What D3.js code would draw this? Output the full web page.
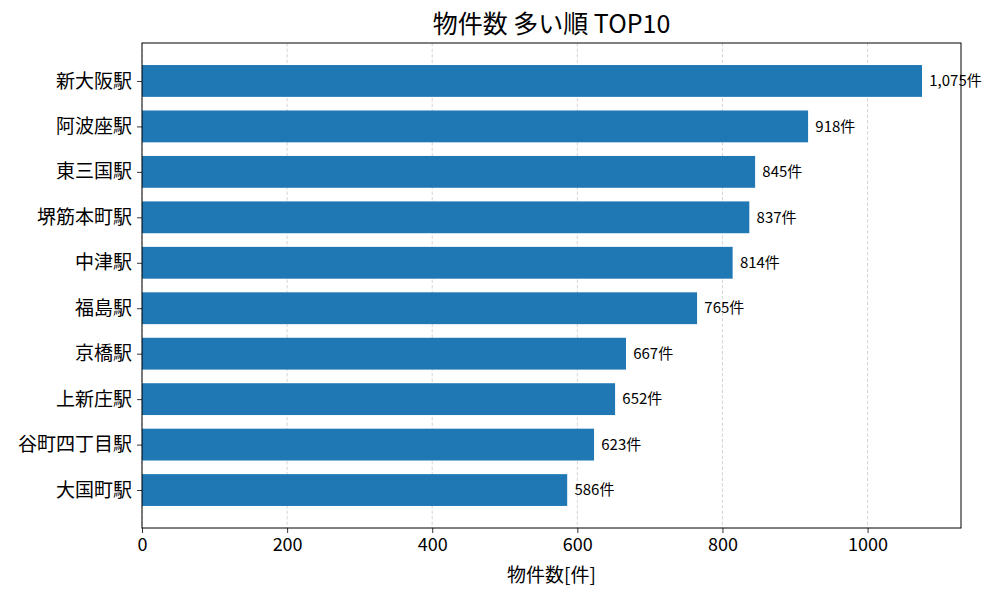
<!DOCTYPE html>
<html>
<head>
<meta charset="utf-8">
<script src="https://cdn.jsdelivr.net/npm/d3@7"></script>
<style>
body{margin:0;background:#fff;font-family:"Noto Sans CJK JP","Noto Sans",sans-serif}
</style>
</head>
<body>
<div id="container"></div>
<script>
// 駅名と物件数 (多い順)
var stations = ["新大阪駅","阿波座駅","東三国駅","堺筋本町駅","中津駅","福島駅","京橋駅","上新庄駅","谷町四丁目駅","大国町駅"]
var counts = [1075,918,845,837,814,765,667,652,623,586]
var xTicks = [0,200,400,600,800,1000]

var W = 1000, H = 600
var margin = {left:142, right:39, top:43, bottom:72}
var pw = W - margin.left - margin.right
var ph = H - margin.top - margin.bottom

var svg = d3.select("#container").append("svg").attr("width",W).attr("height",H)
var g = svg.append("g").attr("transform","translate("+margin.left+","+margin.top+")")

var xMax = d3.max(counts)*1.05
var xScale = d3.scaleLinear().domain([0,xMax]).range([0,pw])
// matplotlib風: バー高さ0.7, 余白5%
var yScale = d3.scaleLinear().domain([-0.835,9.835]).range([0,ph])
var barH = yScale(0.7)-yScale(0)

// grid
g.selectAll(".grid")
    .data(xTicks)
    .enter()
    .append("line")
    .attr("class","grid")
    .attr("x1",function(d){return xScale(d)})
    .attr("x2",function(d){return xScale(d)})
    .attr("y1",0).attr("y2",ph)
    .attr("stroke","#cccccc")
    .attr("stroke-width",0.8)
    .attr("stroke-dasharray","3.5,2")

g.selectAll(".bar")
    .data(counts)
    .enter()
    .append("rect")
    .attr("class","bar")
    .attr("x",0)
    .attr("y",function(d,i){return yScale(i)-barH/2})
    .attr("width",function(d){return xScale(d)})
    .attr("height",barH)
    .attr("fill","#1f77b4")

g.selectAll(".valLabel")
    .data(counts)
    .enter()
    .append("text")
    .attr("class","valLabel")
    .attr("x",function(d){return xScale(d+10)})
    .attr("y",function(d,i){return yScale(i)})
    .attr("dy","0.35em")
    .attr("font-size",15)
    .attr("fill","#000")
    .text(function(d){return d3.format(",")(d)+"件"})

// axes
var xAxis = g.append("g").attr("transform","translate(0,"+ph+")")
    .call(d3.axisBottom(xScale).tickValues(xTicks).tickFormat(d3.format("d")).tickSize(5).tickSizeOuter(0).tickPadding(5))
xAxis.select(".domain").remove()
xAxis.selectAll("text").attr("font-size",18).attr("font-family","Noto Sans CJK JP").attr("fill","#000")
xAxis.selectAll("line").attr("stroke","#000").attr("stroke-width",0.8)

var yAxis = g.append("g")
    .call(d3.axisLeft(yScale).tickValues(d3.range(stations.length)).tickFormat(function(d){return stations[d]}).tickSize(5).tickPadding(5))
yAxis.select(".domain").remove()
yAxis.selectAll("text").attr("font-size",19).attr("font-family","Noto Sans CJK JP").attr("fill","#000")
yAxis.selectAll("line").attr("stroke","#000").attr("stroke-width",0.8)

// frame
g.append("rect").attr("x",0).attr("y",0).attr("width",pw).attr("height",ph)
    .attr("fill","none").attr("stroke","#000").attr("stroke-width",1)

svg.append("text")
    .attr("x",margin.left+pw/2).attr("y",33)
    .attr("text-anchor","middle")
    .attr("font-size",25)
    .text("物件数 多い順 TOP10")

svg.append("text")
    .attr("x",margin.left+pw/2).attr("y",582)
    .attr("text-anchor","middle")
    .attr("font-size",19)
    .text("物件数[件]")
</script>
</body>
</html>
